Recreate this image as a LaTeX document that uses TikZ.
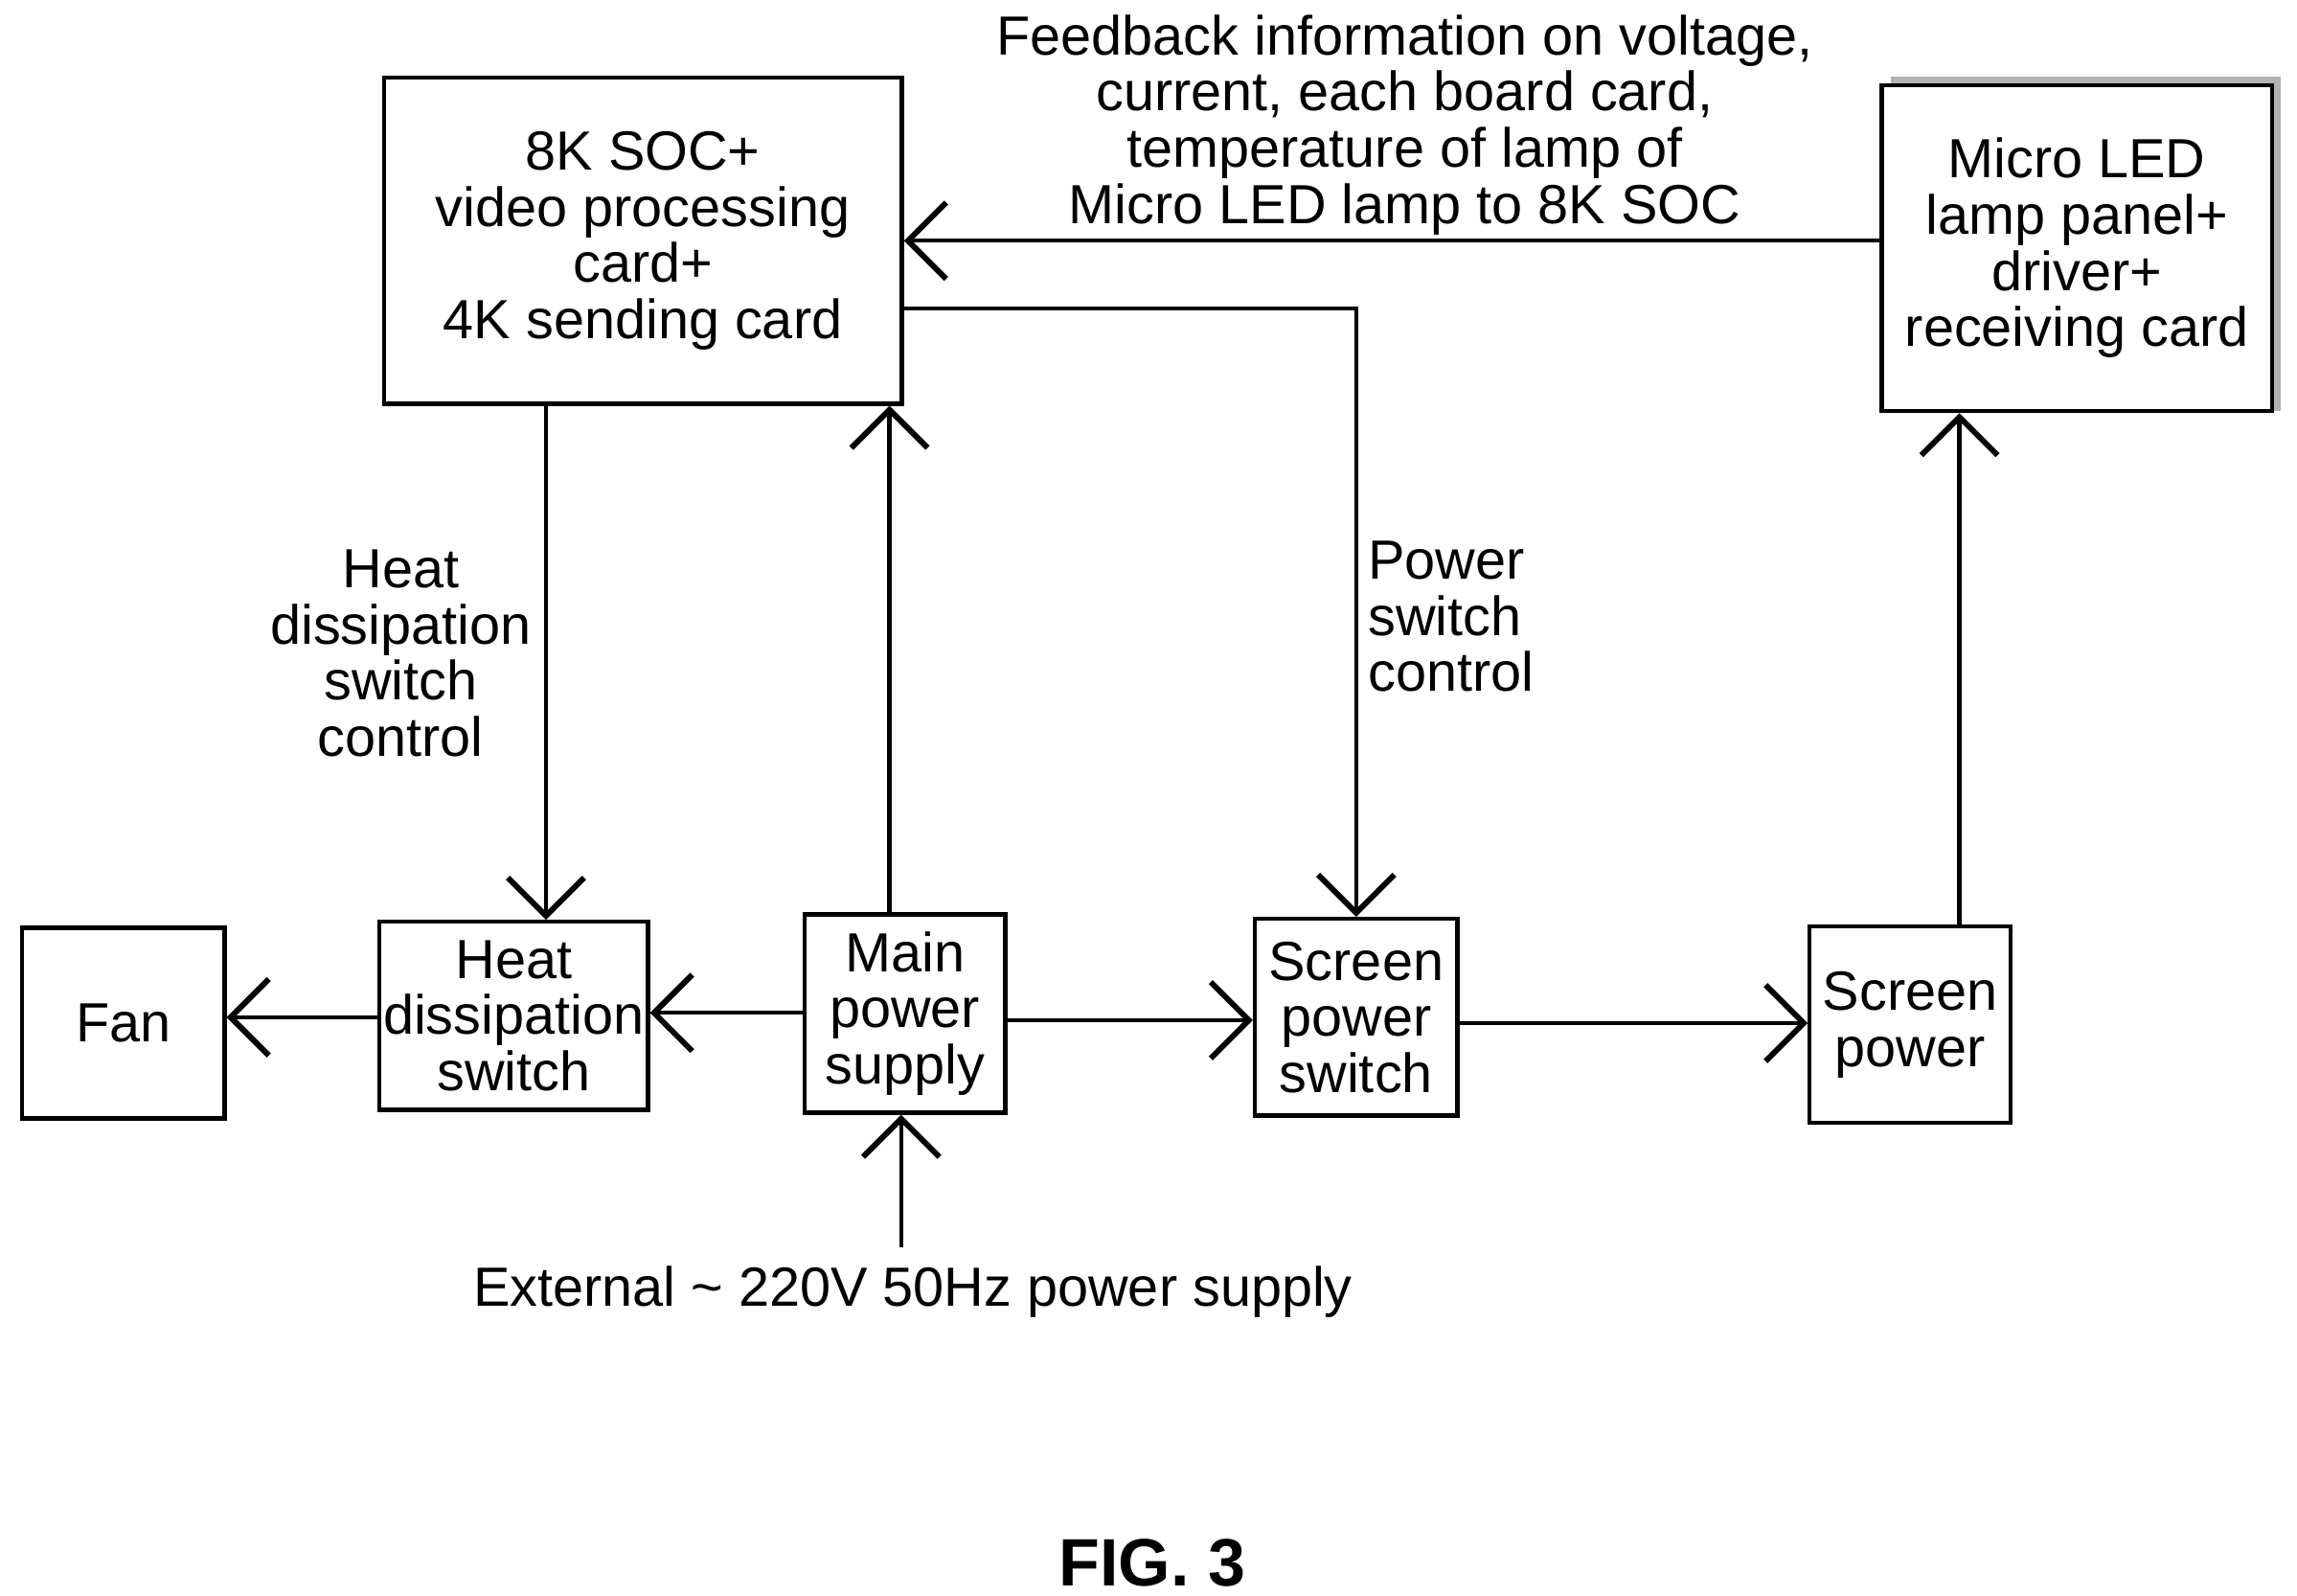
\documentclass[tikz,border=0pt]{standalone}
\usepackage{fontspec}
\setmainfont{Liberation Sans}
\usetikzlibrary{arrows.meta,calc}

\tikzset{
    blk/.style={draw, thick, align=center, inner sep=0pt, font=\fontsize{10.7}{10.9}\selectfont},
    lbl/.style={align=center, inner sep=1pt, font=\fontsize{10.7}{10.9}\selectfont},
    arr/.style={thick, -{Straight Barb[length=2.6mm, width=5.2mm, line width=1.1pt]}}
}

\begin{document}
\begin{tikzpicture}
    \useasboundingbox (0,0) rectangle (15.65,-10.87);

    % boxes
    \node[blk, minimum width=3.53cm, minimum height=2.22cm] (soc) at (4.38,-1.64)
        {8K SOC+\\video processing\\card+\\4K sending card};
    \fill[gray!60] (12.88,-0.52) rectangle (15.54,-2.80);
    \node[blk, fill=white, minimum width=2.66cm, minimum height=2.22cm] (led) at (14.15,-1.69)
        {Micro LED\\lamp panel+\\driver+\\receiving card};
    \node[blk, minimum width=1.38cm, minimum height=1.30cm] (fan) at (0.84,-6.97) {Fan};
    \node[blk, minimum width=1.83cm, minimum height=1.28cm] (heat) at (3.50,-6.92)
        {Heat\\dissipation\\switch};
    \node[blk, minimum width=1.37cm, minimum height=1.35cm] (main) at (6.165,-6.905)
        {Main\\power\\supply};
    \node[blk, minimum width=1.38cm, minimum height=1.34cm] (ssw) at (9.24,-6.93)
        {Screen\\power\\switch};
    \node[blk, minimum width=1.37cm, minimum height=1.34cm] (spw) at (13.015,-6.98)
        {Screen\\power};

    % texts
    \node[lbl] (fb) at (9.57,-0.85) {Feedback information on voltage,\\current, each board card,\\temperature of lamp of\\Micro LED lamp to 8K SOC};
    \node[lbl] (hsc) at (2.73,-4.45) {Heat\\dissipation\\switch\\control};
    \node[lbl, align=left, anchor=west] (psc) at (9.28,-4.20) {Power\\switch\\control};
    \node[lbl] (ext) at (6.22,-8.80) {External \textasciitilde\ 220V 50Hz power supply};
    \node[font=\bfseries\fontsize{13}{15}\selectfont] (fig) at (7.85,-10.65) {FIG. 3};
    \coordinate (extin) at (6.14,-8.50);

    % connectors
    \draw[arr] (led.west |- 0,-1.64) -- (soc.east |- 0,-1.64);
    \draw[arr] (soc.east |- 0,-2.10) -| (ssw.north);
    \draw[arr] (soc.south -| 3.72,0) -- (heat.north -| 3.72,0);
    \draw[arr] (main.north -| 6.06,0) -- (soc.south -| 6.06,0);
    \draw[arr] (main.west |- 0,-6.90) -- (heat.east |- 0,-6.90);
    \draw[arr] (heat.west |- 0,-6.93) -- (fan.east |- 0,-6.93);
    \draw[arr] (main.east |- 0,-6.95) -- (ssw.west |- 0,-6.95);
    \draw[arr] (ssw.east |- 0,-6.97) -- (spw.west |- 0,-6.97);
    \draw[arr] (spw.north -| 13.35,0) -- (led.south -| 13.35,0);
    \draw[arr] (extin) -- (main.south -| extin);
\end{tikzpicture}
\end{document}
